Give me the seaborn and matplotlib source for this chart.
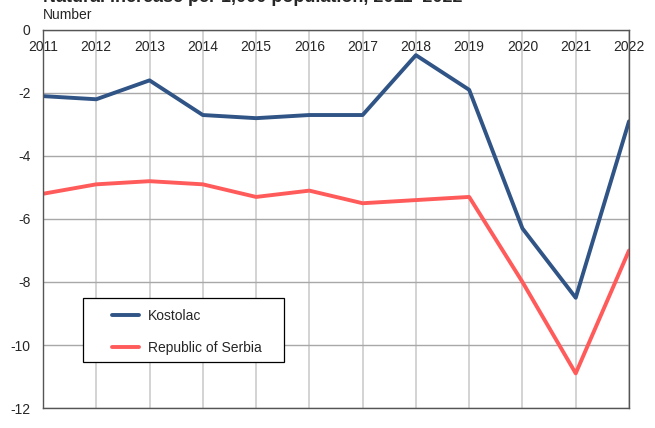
import pandas as pd
import seaborn as sns
import matplotlib.pyplot as plt
from matplotlib.patches import Rectangle

years = [2011, 2012, 2013, 2014, 2015, 2016, 2017, 2018, 2019, 2020, 2021, 2022]
kostolac = [-2.1, -2.2, -1.6, -2.7, -2.8, -2.7, -2.7, -0.8, -1.9, -6.3, -8.5, -2.9]
serbia = [-5.2, -4.9, -4.8, -4.9, -5.3, -5.1, -5.5, -5.4, -5.3, -8.0, -10.9, -7.0]
series = ["Kostolac", "Republic of Serbia"]
colors = ["#2F5485", "#FF5B5B"]

df = pd.DataFrame({
    "Year": years * 2,
    "Value": kostolac + serbia,
    "Area": [series[0]] * len(years) + [series[1]] * len(years),
})

sns.set_style("white")
plt.rcParams['font.family'] = ['Liberation Sans', 'DejaVu Sans']
plt.rcParams['axes.unicode_minus'] = False

fig = plt.figure(figsize=(6.55, 4.28), dpi=100)
ax = fig.add_axes([0.0656, 0.0467, 0.8947, 0.8833])

sns.lineplot(data=df, x="Year", y="Value", hue="Area", palette=colors,
             linewidth=2.8, ax=ax)

ax.set_xlim(2011, 2022)
ax.set_ylim(-12, 0)
ax.set_xticks(years)
ax.set_yticks(range(-12, 1, 2))
# year labels sit just under the zero line, like the original
ax.xaxis.tick_top()
ax.tick_params(axis="x", length=0, pad=-17, labelsize=10)
ax.tick_params(axis="y", length=0, pad=9, labelsize=10)
ax.xaxis.grid(True, color="#CCCCCC", linewidth=1.2)
ax.yaxis.grid(True, color="#A8A8A8", linewidth=1)
ax.set_axisbelow(True)
for s in ax.spines.values():
    s.set_color("#555555")
    s.set_linewidth(1)
ax.set_xlabel("")
ax.set_ylabel("")

# legend box drawn separately so the padding matches
ax.add_patch(Rectangle((0.068, 0.1217), 0.343, 0.169, transform=ax.transAxes,
                       facecolor="white", edgecolor="black", linewidth=0.9,
                       zorder=4))
leg = ax.legend(loc="upper left", bbox_to_anchor=(0.117, 0.262), frameon=False,
                fontsize=10, handlelength=2.0, handletextpad=0.6,
                borderpad=0, labelspacing=1.3, borderaxespad=0)
leg.set_zorder(5)

fig.text(0.0656, 1.005, "Natural increase per 1,000 population, 2011–2022",
         fontsize=13, fontweight="bold", ha="left", va="center")
fig.text(0.0656, 0.965, "Number", fontsize=10, ha="left", va="center")

fig.savefig("out.png", dpi=100)
